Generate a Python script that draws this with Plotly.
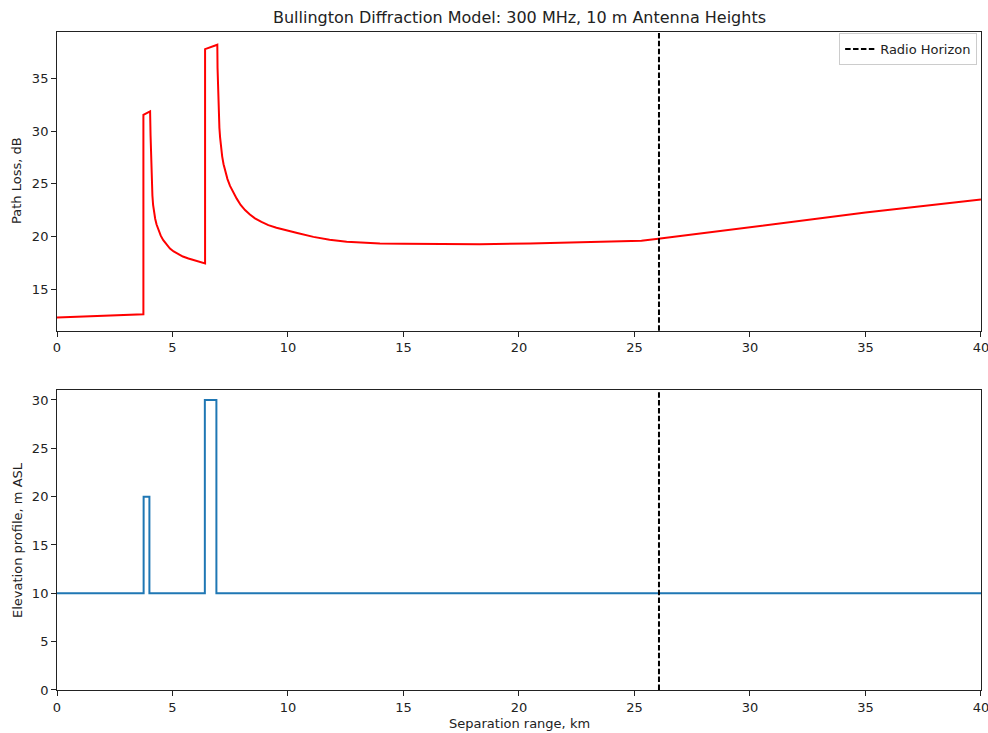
import plotly.graph_objects as go
from plotly.subplots import make_subplots

# Path loss curve (km, dB)
range_km = [0, 3.74, 3.74, 4.03, 4.05, 4.07, 4.09, 4.11, 4.13, 4.16, 4.20, 4.25, 4.31, 4.39, 4.49, 4.60, 4.74,
            4.89, 5.05, 5.25, 5.45, 5.69, 6.05, 6.41,
            6.41, 6.94, 6.95, 6.965, 6.98, 7.0, 7.03, 7.06, 7.10, 7.15, 7.21, 7.28, 7.38, 7.49, 7.63, 7.78,
            7.95, 8.14, 8.35, 8.57, 8.85, 9.15, 9.5, 9.87, 10.4, 11.1, 11.8,
            12.54, 13.2, 13.98, 15.0, 16.15, 18.3, 20.48, 22.6, 25.3, 26.03, 30, 33.03, 35, 40]
path_loss_db = [12.35, 12.66, 31.52, 31.85, 29.6, 27.6, 26.0, 24.8, 23.9, 23.0, 22.3, 21.7, 21.15, 20.6, 20.1,
                19.67, 19.25, 18.88, 18.6, 18.32, 18.12, 17.94, 17.68, 17.46,
                37.75, 38.16, 35.95, 34.3, 32.9, 31.6, 30.3, 29.4, 28.5, 27.6, 26.85, 26.2, 25.45, 24.8, 24.15,
                23.6, 23.0, 22.52, 22.1, 21.73, 21.4, 21.09, 20.85, 20.62, 20.35, 19.98, 19.72,
                19.53, 19.43, 19.36, 19.32, 19.29, 19.29, 19.36, 19.45, 19.61, 19.8, 20.88, 21.7, 22.28, 23.53]

# Terrain profile (km, m ASL)
terrain_km = [0, 3.75, 3.75, 4.0, 4.0, 6.4, 6.4, 6.9, 6.9, 40]
terrain_m = [10, 10, 20, 20, 10, 10, 30, 30, 10, 10]

HORIZON_KM = 26.06

FONT = "DejaVu Sans, sans-serif"
DASH = "5.5px,2.4px"

fig = make_subplots(rows=2, cols=1)

fig.add_trace(go.Scatter(x=range_km, y=path_loss_db, mode="lines",
                         line=dict(color="#ff0000", width=2), showlegend=False), row=1, col=1)
fig.add_trace(go.Scatter(x=terrain_km, y=terrain_m, mode="lines",
                         line=dict(color="#1f77b4", width=2), showlegend=False), row=2, col=1)
# legend-only entry for the horizon marker
fig.add_trace(go.Scatter(x=[None], y=[None], mode="lines", name="Radio Horizon",
                         line=dict(color="black", width=2, dash=DASH)), row=1, col=1)

for r in (1, 2):
    fig.add_vline(x=HORIZON_KM, line=dict(color="black", width=2, dash=DASH), row=r, col=1)

axis_style = dict(showline=True, mirror=True, linecolor="#222222", linewidth=1, automargin=False,
                  ticks="outside", ticklen=5, tickcolor="#222222", showgrid=False, zeroline=False,
                  ticklabeloverflow="allow", tickfont=dict(family=FONT, size=13, color="#222222"))

fig.update_xaxes(range=[0, 40], dtick=5, domain=[0.0577, 0.9929], **axis_style)
fig.update_yaxes(**axis_style)
fig.update_yaxes(range=[11.1, 39.4], tickvals=[15, 20, 25, 30, 35], domain=[0.5488, 0.9568], row=1, col=1)
fig.update_yaxes(range=[0, 31], dtick=5, domain=[0.0587, 0.4675], row=2, col=1)


def label(text, x, y, **kw):
    return dict(text=text, x=x / 988, y=1 - y / 733, xref="paper", yref="paper",
                xanchor="center", yanchor="middle", showarrow=False, **kw)


fig.update_layout(
    template="none",
    width=988, height=733,
    margin=dict(l=0, r=0, t=0, b=0),
    paper_bgcolor="white", plot_bgcolor="white",
    font=dict(family=FONT, size=13, color="#222222"),
    legend=dict(x=0.989, y=0.955, xanchor="right", yanchor="top",
                bgcolor="rgba(255,255,255,0.8)", bordercolor="#cccccc", borderwidth=1,
                font=dict(family=FONT, size=13)),
    annotations=[
        label("Bullington Diffraction Model: 300 MHz, 10 m Antenna Heights", 519, 18, font=dict(size=16)),
        label("Path Loss, dB", 17, 181, textangle=-90),
        label("Elevation profile, m ASL", 17, 540, textangle=-90),
        label("Separation range, km", 519, 723),
    ],
)

# drop the default body margin so the figure sits at the window's top-left corner
fig.write_html("out.html", config={"displayModeBar": False},
               post_script="document.body.style.margin='0';")
